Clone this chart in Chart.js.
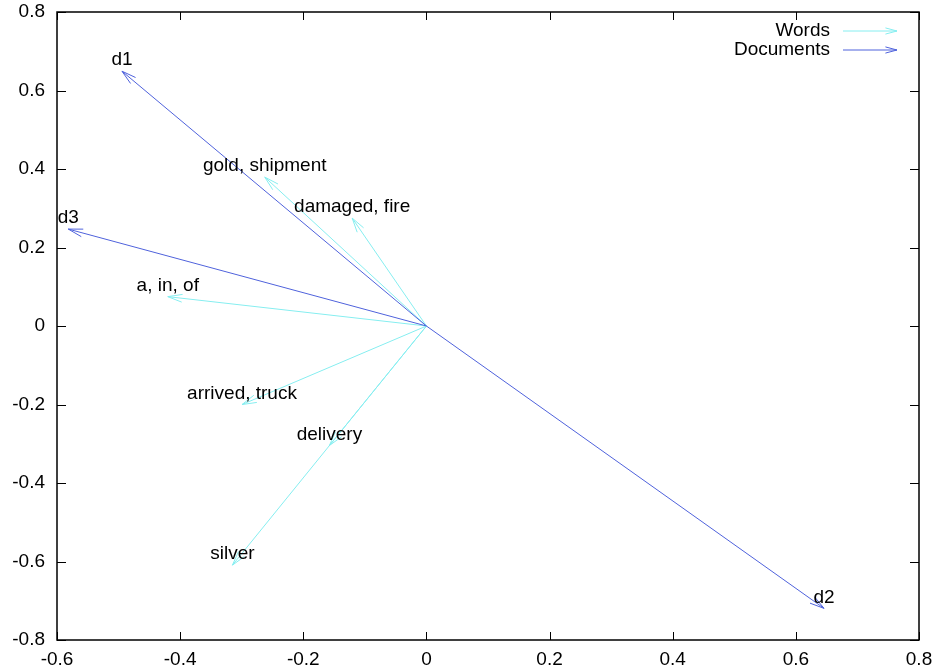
<!DOCTYPE html>
<html lang="en">
<head>
<meta charset="UTF-8">
<title>Words and Documents</title>
<script src="https://cdn.jsdelivr.net/npm/chart.js"></script>
<style>
  html, body { margin: 0; padding: 0; background: #fff; }
  #wrap { width: 941px; height: 671px; }
</style>
</head>
<body>
<div id="wrap"><canvas id="plot" width="941" height="671"></canvas></div>
<script>
// word vectors
const wordLabels = ['gold, shipment', 'damaged, fire', 'a, in, of', 'arrived, truck', 'delivery', 'silver'];
const wordX = [-0.2626, -0.1206, -0.4201, -0.2995, -0.1576, -0.3151];
const wordY = [0.3794, 0.2749, 0.0748, -0.2001, -0.3046, -0.6093];

// document vectors
const docLabels = ['d1', 'd2', 'd3'];
const docX = [-0.4945, 0.6458, -0.5817];
const docY = [0.6492, -0.7194, 0.2469];

// axis ticks
const xTicks = [-0.6, -0.4, -0.2, 0, 0.2, 0.4, 0.6, 0.8];
const yTicks = [-0.8, -0.6, -0.4, -0.2, 0, 0.2, 0.4, 0.6, 0.8];

const seriesNames = ['Words', 'Documents'];
const wordColor = '#86eef0';
const docColor = '#4f62dc';
const font = '19px "Liberation Sans", Arial, sans-serif';

function vectorSets(labels, xs, ys, color) {
    return labels.map((lab, i) => ({
        label: lab,
        data: [{x: 0, y: 0}, {x: xs[i], y: ys[i]}],
        showLine: true,
        borderColor: color,
        borderWidth: 1,
        pointRadius: 0,
        pointHoverRadius: 0
    }));
}

function arrowHead(ctx, x0, y0, x1, y1, len, color) {
    const a = Math.atan2(y0 - y1, x0 - x1);
    const spread = 15 * Math.PI / 180;
    ctx.strokeStyle = color;
    ctx.lineWidth = 1;
    ctx.beginPath();
    ctx.moveTo(x1 + len * Math.cos(a - spread), y1 + len * Math.sin(a - spread));
    ctx.lineTo(x1, y1);
    ctx.lineTo(x1 + len * Math.cos(a + spread), y1 + len * Math.sin(a + spread));
    ctx.stroke();
}

const vectorPlugin = {
    id: 'vectors',
    afterDatasetsDraw(chart) {
        const ctx = chart.ctx;
        const xs = chart.scales.x, ys = chart.scales.y;
        const area = chart.chartArea;
        ctx.save();

        // inward ticks on all four sides
        ctx.strokeStyle = '#000';
        ctx.lineWidth = 1;
        ctx.beginPath();
        xTicks.forEach(v => {
            const px = Math.round(xs.getPixelForValue(v)) + 0.5;
            ctx.moveTo(px, area.bottom); ctx.lineTo(px, area.bottom - 8);
            ctx.moveTo(px, area.top); ctx.lineTo(px, area.top + 8);
        });
        yTicks.forEach(v => {
            const py = Math.round(ys.getPixelForValue(v)) + 0.5;
            ctx.moveTo(area.left, py); ctx.lineTo(area.left + 9, py);
            ctx.moveTo(area.right, py); ctx.lineTo(area.right - 9, py);
        });
        ctx.stroke();

        // arrow heads
        chart.data.datasets.forEach(ds => {
            const p0 = ds.data[0], p1 = ds.data[1];
            arrowHead(ctx, xs.getPixelForValue(p0.x), ys.getPixelForValue(p0.y),
                xs.getPixelForValue(p1.x), ys.getPixelForValue(p1.y), 15, ds.borderColor);
        });

        // vector labels
        ctx.font = font;
        ctx.fillStyle = '#000';
        ctx.textAlign = 'center';
        ctx.textBaseline = 'middle';
        chart.data.datasets.forEach(ds => {
            const p1 = ds.data[1];
            ctx.fillText(ds.label, xs.getPixelForValue(p1.x), ys.getPixelForValue(p1.y) - 11);
        });

        // legend
        const colors = [wordColor, docColor];
        seriesNames.forEach((name, i) => {
            const y = area.top + 19 + i * 19;
            ctx.fillStyle = '#000';
            ctx.textAlign = 'right';
            ctx.fillText(name, area.right - 89, y);
            ctx.strokeStyle = colors[i];
            ctx.beginPath();
            ctx.moveTo(area.right - 76, y);
            ctx.lineTo(area.right - 22, y);
            ctx.stroke();
            arrowHead(ctx, area.right - 76, y, area.right - 22, y, 12, colors[i]);
        });

        // border
        ctx.strokeStyle = '#000';
        ctx.lineWidth = 1.5;
        ctx.strokeRect(area.left, area.top, area.right - area.left, area.bottom - area.top);
        ctx.restore();
    }
};

const tickFont = { family: '"Liberation Sans", Arial, sans-serif', size: 19 };
const fmt = v => String(Number(v.toFixed(1)));

new Chart(document.getElementById('plot'), {
    type: 'scatter',
    data: {
        datasets: [
            ...vectorSets(docLabels, docX, docY, docColor),
            ...vectorSets(wordLabels, wordX, wordY, wordColor)
        ]
    },
    options: {
        responsive: false,
        animation: false,
        events: [],
        layout: { padding: { top: 12, right: 22, left: 0, bottom: 0 } },
        plugins: { legend: { display: false }, tooltip: { enabled: false } },
        scales: {
            x: {
                type: 'linear',
                min: -0.6, max: 0.8,
                afterBuildTicks: s => { s.ticks = xTicks.map(v => ({ value: v })); },
                afterFit: s => { s.height = 31; s.paddingLeft = 0; s.paddingRight = 0; },
                grid: { display: false },
                border: { display: false },
                ticks: { font: tickFont, color: '#000', padding: 0, callback: fmt, maxRotation: 0 }
            },
            y: {
                type: 'linear',
                min: -0.8, max: 0.8,
                afterBuildTicks: s => { s.ticks = yTicks.map(v => ({ value: v })); },
                afterFit: s => { s.width = 57; s.paddingTop = 0; s.paddingBottom = 0; },
                grid: { display: false },
                border: { display: false },
                ticks: { font: tickFont, color: '#000', padding: 4, callback: fmt }
            }
        }
    },
    plugins: [vectorPlugin]
});
</script>
</body>
</html>
